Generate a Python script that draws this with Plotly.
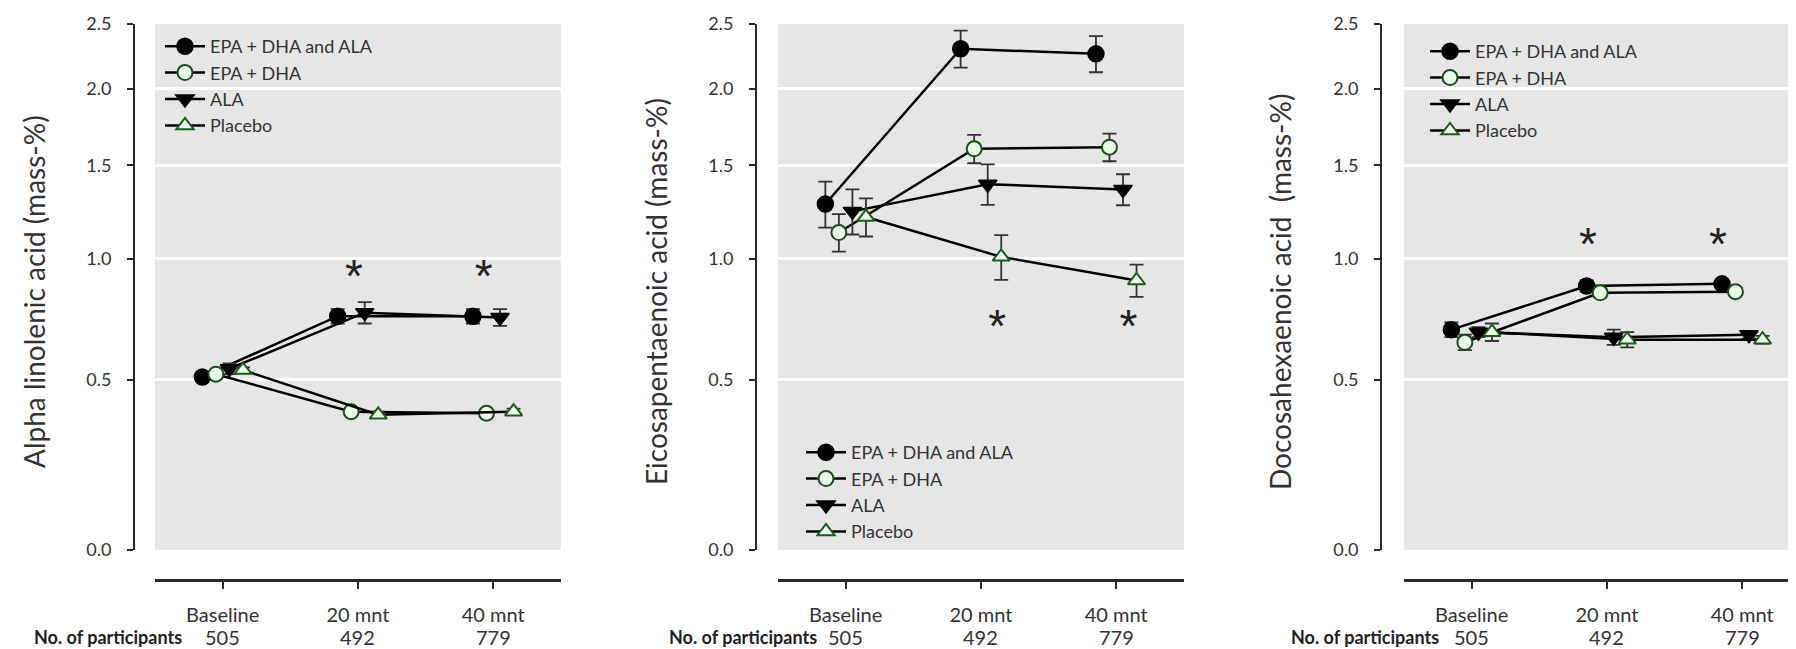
import math
import plotly.graph_objects as go

# ---------------- data ----------------
CATEGORIES = ["Baseline", "20 mnt", "40 mnt"]
PARTICIPANTS = ["505", "492", "779"]
SERIES = ["EPA + DHA and ALA", "EPA + DHA", "ALA", "Placebo"]
Y_TICKS = [0.0, 0.5, 1.0, 1.5, 2.0, 2.5]
Y_TICK_LABELS = ["0.0", "0.5", "1.0", "1.5", "2.0", "2.5"]
Y_TITLES = ["Alpha linolenic acid (mass-%)",
            "Eicosapentaenoic acid (mass-%)",
            "Docosahexaenoic acid\u00a0 (mass-%)"]

# Panel 1: alpha linolenic acid
ALA_MEAN = {
    "EPA + DHA and ALA": [0.51, 0.745, 0.745],
    "EPA + DHA": [0.52, 0.39, 0.385],
    "ALA": [0.54, 0.76, 0.74],
    "Placebo": [0.535, 0.38, 0.39],
}
ALA_ERR = {
    "EPA + DHA and ALA": [0.015, 0.03, 0.03],
    "EPA + DHA": [0.01, 0.01, 0.01],
    "ALA": [0.02, 0.045, 0.035],
    "Placebo": [0.01, 0.01, 0.01],
}
# Panel 2: eicosapentaenoic acid
EPA_MEAN = {
    "EPA + DHA and ALA": [1.28, 2.30, 2.26],
    "EPA + DHA": [1.13, 1.60, 1.61],
    "ALA": [1.24, 1.39, 1.36],
    "Placebo": [1.21, 1.01, 0.90],
}
EPA_ERR = {
    "EPA + DHA and ALA": [0.125, 0.145, 0.14],
    "EPA + DHA": [0.095, 0.088, 0.086],
    "ALA": [0.12, 0.115, 0.087],
    "Placebo": [0.10, 0.107, 0.073],
}
# Panel 3: docosahexaenoic acid
DHA_MEAN = {
    "EPA + DHA and ALA": [0.69, 0.875, 0.885],
    "EPA + DHA": [0.64, 0.845, 0.85],
    "ALA": [0.68, 0.66, 0.67],
    "Placebo": [0.68, 0.65, 0.65],
}
DHA_ERR = {
    "EPA + DHA and ALA": [0.03, 0.025, 0.015],
    "EPA + DHA": [0.03, 0.02, 0.012],
    "ALA": [0.02, 0.03, 0.015],
    "Placebo": [0.035, 0.03, 0.015],
}
# significance asterisks (category position, value)
STAR_X = [[0.97, 1.93], [1.12, 2.09], [0.86, 1.82]]
STAR_Y = [[0.90, 0.90], [0.685, 0.685], [1.05, 1.05]]

PANELS = [(ALA_MEAN, ALA_ERR), (EPA_MEAN, EPA_ERR), (DHA_MEAN, DHA_ERR)]

# ---------------- style ----------------
FONT = "Lato"
OFF = 8                      # page body margin of the html page
W, H = 1796 - OFF, 649 - OFF
Y_SHIFT = 1.0  # axis is log(1 + value)
DODGE = {"EPA + DHA and ALA": -0.15, "EPA + DHA": -0.05, "ALA": 0.05, "Placebo": 0.15}
MARKERS = {
    "EPA + DHA and ALA": dict(symbol="circle", size=16, color="black", line=dict(color="black", width=1.5)),
    "EPA + DHA": dict(symbol="circle", size=15, color="#eafbe8", line=dict(color="#1d4d1d", width=2)),
    "ALA": dict(symbol="triangle-down", size=16, color="black", line=dict(color="black", width=1.5)),
    "Placebo": dict(symbol="triangle-up", size=15, color="#eefbec", line=dict(color="#1d5a1d", width=2)),
}
GRAY = "#e6e6e6"
AXC = "#2a2a2a"

# pixel geometry (screen pixels of the reference)
GRAY_LEFT = [155, 778, 1404]
STEP = 135.3
YAX_PX = [134, 756, 1381]
TITLE_PX = [34, 656, 1280]
Y_TOP, Y_BOT = 24, 550
XAX_Y = 580
LEG_MARK = [(186, 45), (827, 451), (1451, 50)]   # first legend symbol centre
PART_OFFSET = [39, 27, 31]


def fx(px):
    return (px - OFF) / W


def fy(py):
    return 1 - (py - OFF) / H


fig = go.Figure()

for p, (means, errs) in enumerate(PANELS):
    xa = "x" if p == 0 else f"x{p+1}"
    ya = "y" if p == 0 else f"y{p+1}"
    leg = "legend" if p == 0 else f"legend{p+1}"
    for s in SERIES:
        fig.add_trace(go.Scatter(
            x=[i + DODGE[s] for i in range(len(CATEGORIES))],
            y=[v + Y_SHIFT for v in means[s]],
            error_y=dict(type="data", array=errs[s], visible=True,
                         color="#333333", thickness=1.8, width=7),
            mode="lines+markers",
            name=s,
            line=dict(color="black", width=2.5),
            marker=MARKERS[s],
            xaxis=xa, yaxis=ya, legend=leg,
            hoverinfo="skip",
        ))
    fig.add_trace(go.Scatter(
        x=STAR_X[p], y=[v + Y_SHIFT for v in STAR_Y[p]],
        mode="text", text=["*", "*"],
        textfont=dict(family="Liberation Sans", size=46, color="#222"),
        textposition="middle center",
        xaxis=xa, yaxis=ya, showlegend=False, hoverinfo="skip",
    ))

layout = dict(
    width=W, height=H,
    margin=dict(l=0, r=0, t=0, b=0, pad=0, autoexpand=False),
    paper_bgcolor="white",
    plot_bgcolor=GRAY,
    font=dict(family=FONT, size=18, color="#222"),
    annotations=[],
)

y_dom = [fy(Y_BOT), fy(Y_TOP)]
for p in range(3):
    sfx = "" if p == 0 else str(p + 1)
    x0 = GRAY_LEFT[p]
    x1 = min(W + OFF, x0 + 3 * STEP)
    xmax = -0.5 + (x1 - x0) / STEP
    layout[f"xaxis{sfx}"] = dict(
        domain=[fx(x0), min(1.0, fx(x1))], range=[-0.5, xmax],
        anchor="free", position=fy(XAX_Y), automargin=False,
        showline=True, linewidth=2.5, linecolor=AXC,
        ticks="outside", ticklen=7, tickwidth=1.5, tickcolor=AXC,
        tickvals=list(range(len(CATEGORIES))), ticktext=CATEGORIES,
        tickfont=dict(family=FONT, size=20, color="#333"),
        ticklabelstandoff=9,
        showgrid=False, zeroline=False, fixedrange=True,
    )
    layout[f"yaxis{sfx}"] = dict(
        domain=y_dom, type="log",
        range=[math.log10(Y_TICKS[0] + Y_SHIFT), math.log10(Y_TICKS[-1] + Y_SHIFT)],
        anchor="free", position=fx(YAX_PX[p]), automargin=False,
        showline=True, linewidth=2, linecolor=AXC,
        ticks="outside", ticklen=6, tickwidth=1.5, tickcolor=AXC,
        tickvals=[t + Y_SHIFT for t in Y_TICKS], ticktext=Y_TICK_LABELS,
        tickfont=dict(family=FONT, size=18, color="#333"),
        ticklabelstandoff=12,
        showgrid=True, gridcolor="white", gridwidth=2.5,
        zeroline=False, fixedrange=True,
    )
    mx, my = LEG_MARK[p]
    layout["legend" if p == 0 else f"legend{p+1}"] = dict(
        x=fx(mx - 26), y=fy(my - 17), xanchor="left", yanchor="top",
        bgcolor="rgba(0,0,0,0)", borderwidth=0,
        font=dict(family=FONT, size=18, color="#333"),
        tracegroupgap=0, itemwidth=40,
    )
    # y title
    layout["annotations"].append(dict(
        text=Y_TITLES[p], x=fx(TITLE_PX[p]), y=fy(292),
        xref="paper", yref="paper", textangle=-90, showarrow=False,
        xanchor="center", yanchor="middle",
        font=dict(family=FONT, size=28, color="#333"),
    ))
    # participants row
    tick0_px = x0 + 0.5 * STEP
    layout["annotations"].append(dict(
        text="<b>No. of participants</b>", x=fx(tick0_px - PART_OFFSET[p]), y=fy(637),
        xref="paper", yref="paper", showarrow=False,
        xanchor="right", yanchor="middle",
        font=dict(family=FONT, size=18, color="#222"),
    ))
    for i, n in enumerate(PARTICIPANTS):
        layout["annotations"].append(dict(
            text=n, x=i, y=fy(637),
            xref=f"x{sfx}", yref="paper", showarrow=False,
            xanchor="center", yanchor="middle",
            font=dict(family=FONT, size=20, color="#333"),
        ))

fig.update_layout(**layout)
fig.write_html("out.html")
